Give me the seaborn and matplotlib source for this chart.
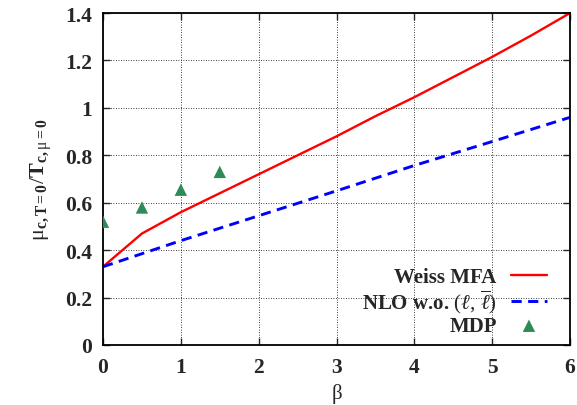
import pandas as pd
import matplotlib
matplotlib.use('Agg')
import matplotlib.pyplot as plt
import seaborn as sns

# Data
beta_weiss = [0, 0.5, 1, 1.5, 2, 2.5, 3, 3.5, 4, 4.5, 5, 5.5, 6]
mu_weiss = [0.33, 0.47, 0.56, 0.64, 0.72, 0.80, 0.88, 0.965, 1.045, 1.13, 1.215, 1.305, 1.40]

beta_nlo = [0, 1, 2, 3, 4, 5, 6]
mu_nlo = [0.33, 0.44, 0.545, 0.65, 0.757, 0.858, 0.96]

beta_mdp = [0, 0.5, 1, 1.5]
mu_mdp = [0.52, 0.58, 0.655, 0.73]

x_ticks = [0, 1, 2, 3, 4, 5, 6]
y_ticks = [0, 0.2, 0.4, 0.6, 0.8, 1, 1.2, 1.4]
y_tick_labels = ['0', '0.2', '0.4', '0.6', '0.8', '1', '1.2', '1.4']

sns.set_style('ticks')
plt.rcParams['font.family'] = ['Liberation Serif', 'DejaVu Serif']
plt.rcParams['mathtext.fontset'] = 'custom'
plt.rcParams['mathtext.rm'] = 'Liberation Serif'
plt.rcParams['mathtext.it'] = 'Liberation Serif:italic'
plt.rcParams['mathtext.bf'] = 'Liberation Serif:bold'

df_weiss = pd.DataFrame({'beta': beta_weiss, 'mu': mu_weiss})
df_nlo = pd.DataFrame({'beta': beta_nlo, 'mu': mu_nlo})
df_mdp = pd.DataFrame({'beta': beta_mdp, 'mu': mu_mdp})

fig = plt.figure(figsize=(5.77, 4.06), dpi=100)
ax = fig.add_axes([0.1785, 0.1478, 0.8095, 0.8177])

sns.lineplot(x='beta', y='mu', data=df_weiss, ax=ax, color='#ff0000', linewidth=1.7,
             label='Weiss MFA')
sns.lineplot(x='beta', y='mu', data=df_nlo, ax=ax, color='#0000ff', linewidth=2.1,
             dashes=False, label=r'NLO w.o. $(\ell,\, \overline{\ell})$')
ax.lines[-1].set_dashes([3.5, 2.2])
sns.scatterplot(x='beta', y='mu', data=df_mdp, ax=ax, color='#2e8b57', marker='^', s=80,
                edgecolor='none', label='MDP', zorder=5)

ax.set_xlim(0, 6)
ax.set_ylim(0, 1.4)
ax.set_xticks(x_ticks)
ax.set_yticks(y_ticks)
ax.set_yticklabels(y_tick_labels)
ax.grid(True, color='black', linestyle=(0, (1, 2)), linewidth=0.6)
ax.tick_params(direction='in', length=5, width=1, top=True, right=True, labelsize=15.5)
ax.tick_params(axis='x', pad=9)
ax.tick_params(axis='y', pad=8)
for lbl in ax.get_xticklabels() + ax.get_yticklabels():
    lbl.set_fontweight('bold')
for sp in ax.spines.values():
    sp.set_linewidth(1.3)
    sp.set_color('black')

ax.set_xlabel('β', fontsize=15, labelpad=4)
ax.set_ylabel(r'$\mathrm{μ}_{\mathbf{c,T=0}}/\mathbf{T}_{\mathbf{c,}\mathrm{μ}\mathbf{=0}}$',
              fontsize=16, labelpad=8)

leg = ax.legend(loc='lower right', bbox_to_anchor=(0.99, -0.03), frameon=False,
                markerfirst=False, handlelength=1.7, labelspacing=0.05,
                handletextpad=0.7, prop={'weight': 'bold', 'size': 15})

fig.savefig('out.png', dpi=100)
